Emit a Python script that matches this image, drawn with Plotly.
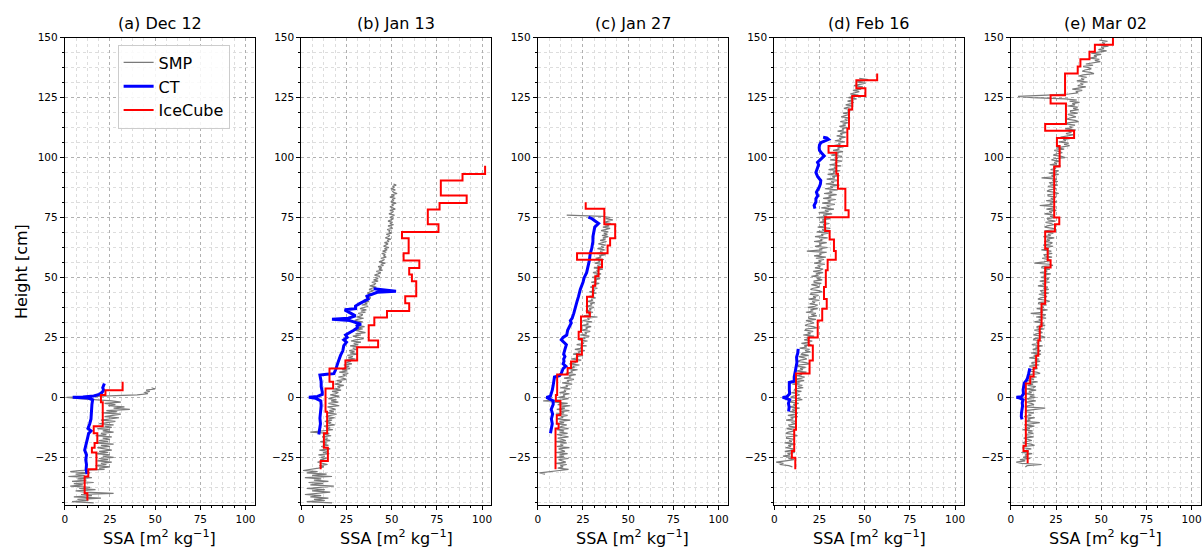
import plotly.graph_objects as go
import numpy as np

panel_titles = ["(a) Dec 12", "(b) Jan 13", "(c) Jan 27", "(d) Feb 16", "(e) Mar 02"]
x_title = "SSA [m<sup>2</sup> kg<sup>−1</sup>]"
y_title = "Height [cm]"
x_ticks = [0, 25, 50, 75, 100]
y_ticks = [-25, 0, 25, 50, 75, 100, 125, 150]

# ---------------- SMP (0.5 cm sampling, from top height downward) ----------------
smp_step = 0.5
smp_a_top = 4
smp_a_ssa = [48, 50, 45, 47, 44, 46, 40, 20, 1,
             8, 19, 26, 31, 22, 28, 24, 33, 27, 36,
             23, 29, 21, 31, 25, 22, 30, 26, 20, 28,
             24, 19, 27, 22, 26, 18, 25, 21, 27, 20,
             23, 17, 26, 21, 25, 19, 24, 16, 27, 20,
             25, 18, 22, 26, 19, 24, 17, 25, 21, 27,
             19, 24, 18, 26, 20, 23, 17, 25, 19, 22,
             8, 3, 14, 6, 11, 2, 15, 7, 12, 4,
             16, 5, 10, 3, 14, 8, 17, 6, 11, 27,
             9, 15, 5, 20, 7, 13, 4, 16]

smp_b_top = 89
smp_b_ssa = [51, 52.5, 50.5, 51.5, 49.5, 52, 50.5, 51, 53, 50,
             51.5, 49, 52, 50.5, 51, 49.5, 52.5, 50, 51, 49,
             50.5, 52, 49, 51, 50, 48.5, 51.5, 50, 49, 51,
             49.5, 48, 50.5, 49, 51, 48, 49.5, 50.5, 47.5, 49,
             48.5, 50, 47, 49, 48, 46.5, 49.5, 47.5, 48.5, 46,
             48, 47, 45.5, 48.5, 46, 47.5, 45, 47, 44.5, 46.5,
             45.5, 47, 44, 46, 45, 43, 46.5, 44, 45.5, 42.5,
             44.5, 43, 45, 41.5, 44, 42.5, 40.5, 43.5, 41, 42.5,
             40, 42.5, 39, 41, 40.5, 38, 41.5, 39, 37.5, 40,
             38, 36.5, 39.5, 37, 35.5, 38.5, 36, 34.5, 37.5, 35,
             36.5, 33.5, 37, 34, 32.5, 36, 33, 35.5, 31.5, 34,
             33, 30.5, 34.5, 31, 29.5, 34, 31.5, 33, 30, 35,
             31, 34, 29.5, 32.5, 35.5, 30, 33, 28.5, 32, 34.5,
             30, 27.5, 33, 29, 31.5, 27, 32, 28.5, 30.5, 26.5,
             29.5, 27, 31, 25.5, 28.5, 26, 30, 24.5, 27.5, 25,
             28, 23.5, 26.5, 24, 27, 22.5, 25.5, 21, 26, 23,
             24.5, 20.5, 23, 25, 19.5, 22.5, 21, 18.5, 23.5, 20,
             21.5, 18, 22, 17, 20.5, 19, 16, 21, 17.5, 15,
             19.5, 16.5, 20.5, 15, 18, 21, 14.5, 17.5, 19, 15.5,
             18, 14, 19.5, 16, 13.5, 18.5, 15, 17, 13, 16.5,
             15, 18.5, 12.5, 16, 14, 17.5, 12, 5, 15.5, 13,
             16.5, 11.5, 14.5, 13, 16, 10.5, 14, 12.5, 15, 11,
             13.5, 16, 10, 14.5, 12, 15.5, 9.5, 13, 11, 14,
             10.5, 13.5, 9, 12, 14.5, 10, 12.5, 9.5, 4, 1,
             9, 3, 14, 6, 17, 2, 11, 7, 15, 4,
             12, 5, 18, 8, 3, 13, 6, 16, 9, 2,
             11, 5, 15, 7, 13, 3, 17]

smp_c_top = 76
smp_c_ssa = [16, 36, 40, 37.5, 41.5, 38, 36.5, 40.5, 37, 39.5,
             36, 40, 37.5, 35, 39, 36.5, 38.5, 35.5, 39, 36,
             37.5, 34.5, 38, 36, 33.5, 37.5, 35, 36.5, 33, 37,
             34.5, 36, 32.5, 37.5, 34, 35, 32, 36.5, 33.5, 34.5,
             31.5, 35.5, 33, 34, 31, 36, 32.5, 33.5, 30.5, 35,
             32, 33.5, 30, 34.5, 31.5, 32.5, 29.5, 34, 31, 32,
             29, 33, 30.5, 31.5, 28.5, 32.5, 30, 31, 28, 32,
             29.5, 30.5, 27.5, 31.5, 29, 30, 26.5, 31, 28.5, 29.5,
             26.5, 30.5, 28, 29, 25.5, 33, 27.5, 28.5, 25, 30,
             27, 28, 24.5, 29.5, 26.5, 27.5, 24, 29, 26, 27,
             23.5, 28.5, 25.5, 26, 22.5, 27.5, 24.5, 25.5, 21.5, 27,
             23.5, 24.5, 20.5, 26, 22.5, 23, 19.5, 25, 21.5, 22,
             18.5, 24, 20.5, 21, 17.5, 23, 19.5, 20, 16.5, 22,
             18.5, 19, 15.5, 21, 17.5, 18, 14.5, 20, 16.5, 17,
             13.5, 19, 15.5, 16.5, 12.5, 18, 14.5, 15.5, 12, 17.5,
             14, 15, 11.5, 17, 13.5, 3, 12, 16.5, 11, 18,
             13, 15, 10.5, 17.5, 12.5, 14.5, 10, 16.5, 13, 14,
             10.5, 18, 12, 14.5, 10, 16, 13.5, 12, 17, 10.5,
             14.5, 12, 16.5, 10.5, 13.5, 17, 11, 14, 15.5, 10,
             16, 12.5, 14, 10.5, 17.5, 11.5, 13.5, 15, 10, 16.5,
             12, 14.5, 10.5, 17, 11.5, 13, 15.5, 10, 16, 12.5,
             14, 11, 17, 12, 6, 1, 4]

smp_d_top = 133
smp_d_ssa = [47, 52, 49, 45.5, 50.5, 47.5, 44, 49, 46.5, 48,
             43.5, 47, 45, 42, 46.5, 44, 41, 45.5, 43, 40.5,
             44, 42.5, 39.5, 43.5, 41, 38.5, 43, 40.5, 42, 38,
             41.5, 39.5, 37, 42, 39, 40.5, 36.5, 41, 38, 39.5,
             36, 40.5, 37.5, 38.5, 35, 40, 36.5, 37.5, 34.5, 39.5,
             36, 37, 33.5, 39, 35.5, 36.5, 33, 38.5, 35, 36,
             32.5, 38, 34.5, 35.5, 31.5, 37.5, 34, 35, 31, 37.5,
             33.5, 34.5, 30.5, 37, 33, 34, 30, 36.5, 32.5, 33.5,
             29.5, 36, 32, 33.5, 29, 35.5, 31.5, 33, 28.5, 36,
             31, 32.5, 28, 35, 30.5, 32, 27.5, 34.5, 30, 31.5,
             27, 34, 29.5, 31, 26.5, 33.5, 29, 30.5, 26, 33,
             28, 30, 24.5, 32, 27, 29, 23.5, 31, 26.5, 28.5,
             25, 30.5, 27, 28, 24, 31, 26.5, 27.5, 23.5, 30,
             26, 27, 22.5, 29.5, 25.5, 26.5, 22, 29, 25, 26,
             22.5, 29.5, 25.5, 26.5, 18, 29, 25, 26, 22, 28.5,
             23, 27.5, 24.5, 26, 22, 28, 24, 25.5, 22.5, 27,
             25.5, 21.5, 27, 23, 24.5, 20.5, 26, 23.5, 26.5, 22,
             22, 26, 20.5, 23.5, 25, 21.5, 20, 24.5, 26.5, 20.5,
             20, 24.5, 21.5, 23, 19, 25, 21, 22.5, 19.5, 24,
             22.5, 18.5, 24, 20, 21.5, 17.5, 23, 20.5, 23.5, 19,
             19, 23, 17.5, 20.5, 22, 18.5, 17, 21.5, 23.5, 17.5,
             17, 21.5, 18.5, 20, 16, 22, 18, 19.5, 16.5, 21,
             19, 15, 20.5, 16.5, 18, 14, 19.5, 17, 20, 15.5,
             15, 19, 13.5, 16.5, 18, 14.5, 13, 17.5, 19.5, 13.5,
             12.8, 17.3, 14.3, 15.8, 11.8, 17.8, 13.8, 15.3, 12.3, 16.8,
             15, 11, 16.5, 12.5, 14, 10, 15.5, 13, 16, 11.5,
             11, 15, 9.5, 12.5, 14, 10.5, 9, 13.5, 15.5, 9.5,
             9, 13.5, 10.5, 12, 8, 14, 10, 11.5, 8.5, 13,
             11.5, 7.5, 13, 9, 10.5, 6.5, 12, 9.5, 12.5, 8,
             8.3, 12.3, 6.8, 9.8, 11.3, 7.8, 6.3, 10.8, 12.8, 6.8,
             6.7, 11.2, 8.2, 9.7, 5.7, 11.7, 7.7, 9.2, 6.2, 10.7,
             9.8, 5.8, 11.3, 7.3, 8.8, 4.8, 10.3, 7.8, 10.8, 6.3,
             1, 5, 3, 8, 10]

smp_e_top = 149
smp_e_ssa = [49, 53.5, 50.5, 52, 48, 54, 50, 51.5, 48.5, 53,
             48.5, 44.5, 50, 46, 47.5, 43.5, 49, 46.5, 49.5, 45,
             41.5, 45.5, 40, 43, 44.5, 41, 39.5, 44, 46, 40,
             37.5, 42, 39, 40.5, 36.5, 42.5, 38.5, 40, 37, 41.5,
             38.5, 34, 39.5, 36, 37, 32, 20, 4, 12, 30,
             36.5, 32.5, 38, 34, 35.5, 31.5, 37, 34.5, 37.5, 33,
             33, 37, 31.5, 34.5, 36, 32.5, 31, 35.5, 37.5, 31.5,
             31, 35.5, 32.5, 34, 30, 36, 32, 33.5, 30.5, 35,
             31.5, 27.5, 33, 29, 30.5, 26.5, 32, 29.5, 32.5, 28,
             25.5, 29.5, 24, 27, 28.5, 25, 23.5, 28, 30, 24,
             22.5, 27, 24, 25.5, 21.5, 27.5, 23.5, 25, 22, 26.5,
             25, 21, 26.5, 22.5, 24, 17, 25.5, 23, 26, 21.5,
             22, 26, 20.5, 23.5, 25, 21.5, 20, 24.5, 26.5, 20.5,
             20.6, 25.1, 22.1, 23.6, 19.6, 25.6, 21.6, 23.1, 16, 24.6,
             23.7, 19.7, 25.2, 21.2, 22.7, 18.7, 24.2, 21.7, 24.7, 20.2,
             20.7, 24.7, 19.2, 22.2, 23.7, 20.2, 18.7, 23.2, 25.2, 19.2,
             19, 23.5, 20.5, 22, 18, 24, 20, 21.5, 18.5, 23,
             21.9, 17.9, 23.4, 19.4, 20.9, 16.9, 22.4, 19.9, 22.9, 18.4,
             18.8, 22.8, 17.3, 20.3, 21.8, 18.3, 13, 21.3, 23.3, 17.3,
             17.1, 21.6, 18.6, 20.1, 16.1, 22.1, 18.1, 19.6, 16.6, 21.1,
             20, 16, 21.5, 17.5, 19, 15, 20.5, 18, 21, 16.5,
             17, 21, 15.5, 18.5, 20, 16.5, 15, 19.5, 21.5, 15.5,
             15.3, 19.8, 16.8, 18.3, 14.3, 20.3, 16.3, 17.8, 11, 19.3,
             18, 14, 19.5, 15.5, 17, 13, 18.5, 16, 19, 14.5,
             14.5, 18.5, 13, 16, 17.5, 14, 12.5, 17, 19, 13,
             12.6, 17.1, 14.1, 15.6, 11.6, 17.6, 13.6, 15.1, 12.1, 16.6,
             15.2, 11.2, 16.7, 12.7, 14.2, 10.2, 15.7, 13.2, 16.2, 11.7,
             11.7, 15.7, 10.2, 13.2, 14.7, 11.2, 9.7, 14.2, 16.2, 10.2,
             9.8, 14.3, 11.3, 12.8, 8.8, 14.8, 10.8, 12.3, 9.3, 13.8,
             12.5, 8.5, 14, 10, 11.5, 7.5, 13, 10.5, 13.5, 9,
             9.8, 13.8, 8.3, 11.3, 12.8, 9.3, 7.8, 19, 14.3, 8.3,
             8.3, 12.8, 9.8, 11.3, 7.3, 13.3, 9.3, 10.8, 7.8, 16,
             11.5, 7.5, 13, 9, 10.5, 6.5, 12, 9.5, 12.5, 8,
             8.6, 12.6, 7.1, 10.1, 11.6, 8.1, 6.6, 11.1, 13.1, 7.1,
             6.8, 11.3, 8.3, 9.8, 5.8, 11.8, 7.8, 9.3, 6.8, 10.8,
             5, 8, 3, 6, 17, 9, 8]

# ---------------- CT ----------------
ct_a_height = [5.8, 5, 4, 3, 2, 1.2, 0.6, 0.2, 0, -0.3, -1, -3, -5, -7, -9, -11, -13, -14,
               -15, -17, -19, -21, -22, -24, -26, -28, -30, -32]
ct_a_ssa = [21.9, 21.5, 21, 21.5, 20.5, 19, 16, 10, 4.4, 13, 15.4, 15, 14.8, 14.3, 14.5, 13.8,
            12.8, 14.5, 13.2, 12.6, 12, 11.6, 11, 12, 11.6, 12, 11.8, 12.3]

ct_b_height = [-15.5, -13, -11, -8.7, -6, -3.5, -1.5, -0.4, 0, 0.4, 1.2, 2.3, 4.5, 6.5, 8.5,
               9.3, 9.6, 9.9, 11.5, 13.3, 15, 17.5, 19.5, 21.6, 23, 24, 25, 26, 27, 28, 29,
               29.8, 30.5, 31.5, 32, 32.6, 33, 34, 35.3, 36.5, 37, 38.1, 39, 40.2, 41, 42.2,
               43, 43.8, 44.3, 44.8, 45.3]
ct_b_ssa = [9.7, 10, 10.6, 10.3, 10.8, 11, 10.8, 8, 4.2, 9, 11.6, 11.6, 11, 11, 10.5,
            10.3, 14, 18, 19, 20, 20.5, 21.7, 23, 23.5, 25, 23.5, 25.4, 24.5, 27.2, 29, 31,
            30.9, 33, 29, 27, 17, 26, 30, 27.2, 24, 30, 30, 32, 34.6, 37, 36.4,
            39, 42, 52.4, 45, 40]

ct_c_height = [-15, -13, -11, -9, -7, -5, -3, -1.5, -0.5, 0, 0.5, 1.5, 3, 5, 7, 8.5, 9, 10,
               12, 13, 14, 15, 16, 17, 18, 19, 20, 22, 23, 24, 25, 26, 28, 30, 31, 32, 33,
               35, 37, 40, 42, 45, 48, 50, 52, 55, 57, 60, 62, 65, 67, 69, 71, 72.5, 73.5,
               74.5, 75.2]
ct_c_ssa = [7, 7.5, 8, 7.5, 8.2, 7.4, 8.5, 8.5, 6, 4.8, 7, 7.5, 8, 8.5, 8.8, 9.2, 12, 13,
            14, 15.5, 14, 14.5, 14.3, 15, 14.3, 14.5, 15, 15.8, 14.5, 13, 14, 16, 16.5, 17.6,
            18.5, 18, 19, 19.9, 20.5, 21.7, 22.5, 23.5, 25, 25.7, 27, 28, 28.5, 29, 29.8,
            30.5, 30.5, 31, 31.5, 33.6, 32, 30, 28]

ct_d_height = [-5.9, -4, -2.5, -1, -0.3, 0, 0.3, 1.5, 3, 5, 6.2, 6.7, 8.5, 10.5, 12.7, 14.5,
               16.8, 18.5, 20.2, None,
               78.7, 80, 81.5, 82.8, 84, 85.6, 87.6, 89, 90.4, 92, 93.8, 95.5, 97, 98, 99.5,
               100.7, 102, 103, 104.1, 105.2, 106.2, 107, 107.6, 108.2, 108.5]
ct_d_ssa = [7.9, 8.2, 7.8, 8.5, 6, 4.6, 7, 8.5, 8.3, 8.5, 8.3, 11, 11, 11.5, 11.9, 12.5,
            12.3, 13, 13.2, None,
            22.5, 22, 23, 23, 24, 23.3, 24.8, 25.5, 25.7, 24, 23, 24, 24.5, 23.9, 26,
            27.6, 26, 25, 24.8, 25, 25.7, 28, 30, 29, 27]

ct_e_height = [-9.2, -8, -6.5, -5, -3.5, -2.3, -1, -0.3, 0, 0.3, 1.5, 3.2, 4.5, 5.9, 7, 8,
               10, 11, 12.1]
ct_e_ssa = [6.2, 5.8, 5.9, 6.3, 6.5, 6.3, 6.8, 5, 3.1, 6, 7, 6.8, 7, 7.4, 8.6, 9.2, 9.9,
            10.3, 10.5]

# ---------------- IceCube (layer boundaries top -> bottom, one value per layer) -------
ice_a_bounds = [6.5, 3, 1, -2, -12, -15, -19, -21, -23, -30, -33, -40, -43]
ice_a_ssa = [32, 22.5, 20, 21, 16, 18, 16.5, 15, 17.5, 13, 11, 12.5]

ice_b_bounds = [96.6, 93.1, 90.4, 84.2, 81, 78.3, 72.2, 69, 66.3, 60.1, 57.1, 53.9, 51.2,
                48.4, 42.2, 39.2, 36, 33.3, 30.1, 23.7, 20.9, 15.4, 12, 6.5, 3.7, -6, -15,
                -21, -26.5, -30]
ice_b_ssa = [101.7, 89.2, 77.2, 91.5, 76.5, 70, 75.9, 55.7, 59.4, 56.6, 65.3, 59.7, 61.2,
             63.6, 57.5, 59.7, 47.4, 40.4, 37.3, 42.5, 30.9, 24.4, 15.6, 17.6, 13.4, 14.3,
             12.5, 14.7, 10.7]

ice_c_bounds = [81.4, 78.7, 72.2, 66.3, 63.3, 60.1, 57.4, 54.3, 50.5, 46.5, 42, 35.4, 33.7,
                27.4, 24.3, 17.9, 15, 12.2, 9.5, 1, -1.5, -7.5, -11, -13, -30]
ice_c_ssa = [26.5, 36.8, 42.8, 40, 38.6, 21.7, 35.5, 33.6, 31.8, 30.5, 27.2, 28.8, 23.9,
             22.6, 24.4, 21.7, 18.4, 16.5, 10.7, 10, 12.5, 10.5, 11.5, 9.8]

ice_d_bounds = [135, 132.2, 128.9, 125.7, 120, 112, 104.8, 102, 93.2, 87, 78, 75.1, 69.4,
                65.8, 61, 57.4, 53, 46, 41, 37, 32, 25, 21.6, 15.4, 9.9, -13.5, -22.4,
                -25.2, -30]
ice_d_ssa = [56.9, 45.4, 50.4, 43.1, 41.3, 40.4, 30, 34.3, 35.2, 39.3, 41.1, 28.1, 30.6,
             33, 34, 29.5, 28.5, 27.5, 29, 26.5, 24, 19, 21.3, 19.5, 12, 11, 9.7, 11.6]

ice_e_bounds = [150, 147, 144.1, 141, 138, 135, 126, 122.5, 114, 111.2, 108.2, 104.8, 96.3,
                75, 72.2, 69.2, 62, 57.2, 54.2, 39, 29.5, 23.8, 17.3, 12.3, 8.7, 5.8, -20.2,
                -22.4, -27.5]
ice_e_ssa = [56.5, 46.5, 43.5, 38.5, 37, 30, 22, 30.5, 19, 35, 25.5, 27, 24, 26.8, 24.4,
             19, 20.4, 22, 19, 17, 16, 15.2, 14, 12.6, 10.7, 8.3, 7, 9.3]

smp_all = [(smp_a_top, smp_a_ssa), (smp_b_top, smp_b_ssa), (smp_c_top, smp_c_ssa),
           (smp_d_top, smp_d_ssa), (smp_e_top, smp_e_ssa)]
ct_all = [(ct_a_height, ct_a_ssa), (ct_b_height, ct_b_ssa), (ct_c_height, ct_c_ssa),
          (ct_d_height, ct_d_ssa), (ct_e_height, ct_e_ssa)]
ice_all = [(ice_a_bounds, ice_a_ssa), (ice_b_bounds, ice_b_ssa), (ice_c_bounds, ice_c_ssa),
           (ice_d_bounds, ice_d_ssa), (ice_e_bounds, ice_e_ssa)]


def step_xy(bounds, vals):
    xs, ys = [], []
    for i, v in enumerate(vals):
        xs += [v, v]
        ys += [bounds[i], bounds[i + 1]]
    return xs, ys


W, H = 1203, 548
FONT = "DejaVu Sans"
panel_left_px = [62, 299.3, 536.6, 773.9, 1011.2]
panel_w_px = 190.4
y_top_px, y_bot_px = 32, 504.8

fig = go.Figure()
layout = dict(
    width=W, height=H, margin=dict(l=0, r=0, t=0, b=0),
    paper_bgcolor="white", plot_bgcolor="white",
    font=dict(family=FONT, size=10, color="black"),
    showlegend=True,
    legend=dict(x=115 / W, y=1 - 39 / H, xanchor="left", yanchor="top",
                bgcolor="rgba(255,255,255,0.85)", bordercolor="#cccccc", borderwidth=1,
                font=dict(family=FONT, size=16, color="black"), tracegroupgap=0,
                itemwidth=30),
)
annotations = []

for i in range(5):
    n = "" if i == 0 else str(i + 1)
    xa, ya = "x" + n, "y" + n
    top, ssa = smp_all[i]
    heights = top - smp_step * np.arange(len(ssa))
    fig.add_trace(go.Scatter(x=ssa, y=heights, mode="lines", name="SMP",
                             line=dict(color="#7a7a7a", width=1.2),
                             showlegend=(i == 0), xaxis=xa, yaxis=ya))
    ch, cv = ct_all[i]
    fig.add_trace(go.Scatter(x=cv, y=ch, mode="lines", name="CT",
                             line=dict(color="#0000ff", width=3),
                             showlegend=(i == 0), xaxis=xa, yaxis=ya, connectgaps=False))
    ib, iv = ice_all[i]
    sx, sy = step_xy(ib, iv)
    fig.add_trace(go.Scatter(x=sx, y=sy, mode="lines", name="IceCube",
                             line=dict(color="#ff0000", width=2),
                             showlegend=(i == 0), xaxis=xa, yaxis=ya))

    x0 = panel_left_px[i] / W
    x1 = (panel_left_px[i] + panel_w_px) / W
    common = dict(showline=True, mirror=True, linecolor="black", linewidth=1,
                  ticks="outside", ticklen=4, tickwidth=1, tickcolor="black",
                  showgrid=True, gridcolor="#b0b0b0", griddash="dot", gridwidth=1,
                  zeroline=False, tickfont=dict(family=FONT, size=10.5, color="black"))
    layout["xaxis" + n] = dict(domain=[x0, x1], range=[0, 105], anchor=ya,
                               tickvals=x_ticks,
                               minor=dict(dtick=6.25, tick0=0, ticklen=2, ticks="outside",
                                          tickcolor="black", showgrid=True,
                                          gridcolor="#dddddd", griddash="dot"),
                               **common)
    layout["yaxis" + n] = dict(domain=[1 - y_bot_px / H, 1 - y_top_px / H],
                               range=[-45, 150], anchor=xa, tickvals=y_ticks,
                               minor=dict(dtick=6.25, tick0=0, ticklen=2, ticks="outside",
                                          tickcolor="black", showgrid=True,
                                          gridcolor="#dddddd", griddash="dot"),
                               **common)
    xc = (x0 + x1) / 2
    annotations.append(dict(text=panel_titles[i], x=xc, y=1 - 18 / H, xref="paper",
                            yref="paper", showarrow=False, xanchor="center",
                            yanchor="middle", font=dict(family=FONT, size=16)))
    annotations.append(dict(text=x_title, x=xc, y=1 - 537 / H, xref="paper", yref="paper",
                            showarrow=False, xanchor="center", yanchor="middle",
                            font=dict(family=FONT, size=16)))

annotations.append(dict(text=y_title, x=18 / W, y=1 - 268 / H, xref="paper", yref="paper",
                        showarrow=False, xanchor="center", yanchor="middle", textangle=-90,
                        font=dict(family=FONT, size=16)))
layout["annotations"] = annotations
fig.update_layout(**layout)
fig.write_html("out.html", config={"displayModeBar": False},
               post_script="document.body.style.margin='0';document.body.style.padding='0';"
                           "document.body.style.overflow='hidden';")
